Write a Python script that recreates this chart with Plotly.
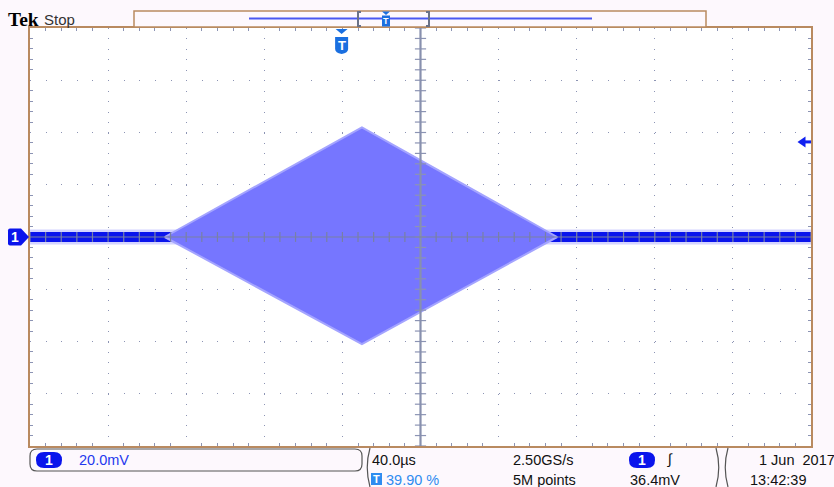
import numpy as np
import plotly.graph_objects as go

time_per_div_us = 40.0
volt_per_div_mV = 20.0
n_hdiv = 10
n_vdiv = 8
trigger_pos_pct = 39.90
trigger_level_mV = 36.4

baseline_t_us = [0.0, 400.0]
baseline_mV = [0.0, 0.0]

envelope_t_us = [69.0, 170.0, 270.0, 170.0, 69.0]
envelope_mV = [0.0, 42.0, 0.0, -41.0, 0.0]

status_row1 = ["20.0mV", "40.0µs", "2.50GS/s", "1\u00a0Jun\u00a0\u00a02017"]
status_row2 = ["39.90 %", "5M points", "36.4mV", "13:42:39"]

# ---------------- layout helpers (pixels -> paper) ----------------
W, H = 834, 487
L, R, T, B = 30, 23, 28, 41
PW, PH = W - L - R, H - T - B


def px(x):
    return (x - L) / PW


def py(y):
    return (H - B - y) / PH


def pth(cmds):
    out = []
    for c in cmds:
        if isinstance(c, str):
            out.append(c)
        else:
            out.append(f"{px(c[0]):.5f},{py(c[1]):.5f}")
    return " ".join(out)


def pill(x0, y0, x1, y1, r):
    return pth(["M", (x0 + r, y0), "L", (x1 - r, y0), "Q", (x1, y0), (x1, y0 + r),
                "L", (x1, y1 - r), "Q", (x1, y1), (x1 - r, y1), "L", (x0 + r, y1),
                "Q", (x0, y1), (x0, y1 - r), "L", (x0, y0 + r), "Q", (x0, y0), (x0 + r, y0), "Z"])


xmax = time_per_div_us * n_hdiv
ymax = volt_per_div_mV * n_vdiv / 2
trig_x = xmax * trigger_pos_pct / 100.0

BORDER = "#b98a60"
GRID = "#8c94b4"
BG = "#fdf8fd"
BLUE = "#0a14ec"
FILL = "#7676ff"

fig = go.Figure()

# baseline (noise band) with soft fringe
fig.add_trace(go.Scatter(x=baseline_t_us, y=baseline_mV, mode="lines",
                         line=dict(color="#d4d4ff", width=15), hoverinfo="skip"))
fig.add_trace(go.Scatter(x=baseline_t_us, y=baseline_mV, mode="lines",
                         line=dict(color=BLUE, width=10), hoverinfo="skip"))
# burst envelope
fig.add_trace(go.Scatter(x=envelope_t_us, y=envelope_mV, mode="lines", fill="toself",
                         fillcolor=FILL, line=dict(color="#a4a4ff", width=2),
                         hoverinfo="skip"))

# centre-line tick marks (graticule decoration)
hx = np.arange(0, xmax + 0.01, time_per_div_us / 5)
vy = np.arange(-ymax, ymax + 0.01, volt_per_div_mV / 5)
fig.add_trace(go.Scatter(x=hx, y=np.zeros_like(hx), mode="markers",
                         marker=dict(symbol="line-ns", size=7, line=dict(color="#7880a4", width=1.2)),
                         hoverinfo="skip"))
fig.add_trace(go.Scatter(x=np.full_like(vy, xmax / 2), y=vy, mode="markers",
                         marker=dict(symbol="line-ew", size=8, line=dict(color=GRID, width=1.2)),
                         hoverinfo="skip"))

shapes = []
# centre cross
shapes.append(dict(type="line", xref="x", yref="paper", x0=xmax / 2, x1=xmax / 2, y0=0, y1=1,
                   line=dict(color="#8890ae", width=2.2), layer="above"))
shapes.append(dict(type="line", xref="paper", yref="y", x0=0, x1=1, y0=0, y1=0,
                   line=dict(color="#7880a4", width=1.2), layer="above"))

# record bar at top
shapes.append(dict(type="rect", xref="paper", yref="paper", x0=px(134), x1=px(706),
                   y0=py(27), y1=py(11), line=dict(color=BORDER, width=1.5), fillcolor=BG))
shapes.append(dict(type="line", xref="paper", yref="paper", x0=px(249), x1=px(592),
                   y0=py(18.5), y1=py(18.5), line=dict(color="#4a58f2", width=2)))
shapes.append(dict(type="path", xref="paper", yref="paper",
                   path=pth(["M", (361, 12), "L", (358, 12), "L", (358, 26), "L", (361, 26)]),
                   line=dict(color="#6a7288", width=2)))
shapes.append(dict(type="path", xref="paper", yref="paper",
                   path=pth(["M", (426, 12), "L", (429, 12), "L", (429, 26), "L", (426, 26)]),
                   line=dict(color="#6a7288", width=2)))
shapes.append(dict(type="path", xref="paper", yref="paper",
                   path=pth(["M", (382, 11.5), "L", (390, 11.5), "L", (386, 15), "Z"]),
                   fillcolor="#1a6fe0", line=dict(width=0)))
shapes.append(dict(type="rect", xref="paper", yref="paper", x0=px(382), x1=px(390),
                   y0=py(26.5), y1=py(15.5), fillcolor="#1a6fe0", line=dict(width=0)))

# trigger position marker (anchored on the time axis)
shapes.append(dict(type="path", xref="x", xsizemode="pixel", xanchor=trig_x, yref="paper",
                   path=f"M -6,{py(29):.5f} L 6,{py(29):.5f} L 0,{py(34):.5f} Z",
                   fillcolor="#1a6fe0", line=dict(width=0)))
shapes.append(dict(type="path", xref="x", xsizemode="pixel", xanchor=trig_x, yref="paper",
                   path=(f"M -6.5,{py(37):.5f} L 6.5,{py(37):.5f} L 6.5,{py(49):.5f} "
                         f"Q 6.5,{py(53):.5f} 0,{py(54):.5f} Q -6.5,{py(53):.5f} -6.5,{py(49):.5f} Z"),
                   fillcolor="#1a6fe0", line=dict(width=0)))

# trigger level arrow on the right edge
shapes.append(dict(type="line", xref="paper", yref="y", x0=px(803), x1=px(811),
                   y0=trigger_level_mV, y1=trigger_level_mV,
                   line=dict(color="#1020f0", width=3)))
shapes.append(dict(type="path", xref="paper", yref="y", ysizemode="pixel", yanchor=trigger_level_mV,
                   path=f"M {px(797.5):.5f},0 L {px(805.5):.5f},5.5 L {px(805.5):.5f},-5.5 Z",
                   fillcolor="#1020f0", line=dict(width=0)))

# channel 1 ground marker at left
shapes.append(dict(type="path", xref="paper", yref="y", ysizemode="pixel", yanchor=0,
                   path=(f"M {px(8):.5f},6.5 Q {px(8):.5f},8.5 {px(10):.5f},8.5 L {px(21):.5f},8.5 "
                         f"L {px(29):.5f},0 L {px(21):.5f},-8.5 L {px(10):.5f},-8.5 "
                         f"Q {px(8):.5f},-8.5 {px(8):.5f},-6.5 Z"),
                   fillcolor=BLUE, line=dict(width=0)))

# status area
shapes.append(dict(type="path", xref="paper", yref="paper", path=pill(30, 449, 362, 471, 7),
                   line=dict(color="#555555", width=1.2), fillcolor=BG))
for (a, b) in [((370, 448), (364.5, 467.5)), ((716, 448), (721.5, 467.5)), ((728, 448), (722.5, 467.5))]:
    shapes.append(dict(type="path", xref="paper", yref="paper",
                       path=pth(["M", a, "Q", b, (a[0], 487)]),
                       line=dict(color="#555555", width=1.2)))
shapes.append(dict(type="path", xref="paper", yref="paper", path=pill(36, 452, 62, 468, 8),
                   fillcolor=BLUE, line=dict(width=0)))
shapes.append(dict(type="path", xref="paper", yref="paper", path=pill(629, 452, 655, 468, 8),
                   fillcolor=BLUE, line=dict(width=0)))
shapes.append(dict(type="rect", xref="paper", yref="paper", x0=px(371), x1=px(382),
                   y0=py(485), y1=py(473), fillcolor="#2f8cf0", line=dict(width=0)))

SF = "Liberation Sans, Arial, sans-serif"
ann = []


def text(x, y, s, color="#111111", size=14.5, family=SF, anchor="left", bold=False, xref="paper"):
    ann.append(dict(x=px(x) if xref == "paper" else x, y=py(y), xref=xref, yref="paper", text=s,
                    showarrow=False, xanchor=anchor, yanchor="middle",
                    font=dict(color=color, size=size, family=family,
                              weight="bold" if bold else "normal")))


text(6, 19, "Tek", color="#000000", size=19.5, family="Liberation Serif, serif", bold=True)
text(42, 19.5, "Stop", color="#333333", size=15)
text(trig_x, 45.5, "T", color="white", size=13, bold=True, anchor="center", xref="x")
text(386, 21, "T", color="white", size=9, bold=True, anchor="center")
text(14.5, 237, "1", color="white", size=14, bold=True, anchor="center")
text(49, 460, "1", color="white", size=14, bold=True, anchor="center")
text(642, 460, "1", color="white", size=14, bold=True, anchor="center")
text(376.5, 479, "T", color="white", size=11, bold=True, anchor="center")

text(77, 460, status_row1[0], color="#2438ee")
text(370, 459.5, status_row1[1])
text(511, 459.5, status_row1[2])
text(665, 459.5, "∫", size=14.5)
text(757, 459.5, status_row1[3])
text(384, 479.5, status_row2[0], color="#2f8cf0")
text(511, 479.5, status_row2[1])
text(628, 479.5, status_row2[2])
text(748, 479.5, status_row2[3])

fig.update_layout(
    width=W, height=H, margin=dict(l=L, r=R, t=T, b=B),
    paper_bgcolor=BG, plot_bgcolor="white", showlegend=False,
    shapes=shapes, annotations=ann,
    xaxis=dict(range=[0, xmax], dtick=time_per_div_us, tick0=0, showgrid=True,
               gridcolor=GRID, gridwidth=1, griddash=f"1px,{PH / n_vdiv / 5 - 1:.2f}px",
               zeroline=False, showticklabels=False, ticks="",
               minor=dict(dtick=time_per_div_us / 5, ticks="inside", ticklen=3,
                          tickcolor=GRID, showgrid=False),
               showline=True, linecolor=BORDER, linewidth=2, mirror="ticks", fixedrange=True),
    yaxis=dict(range=[-ymax, ymax], dtick=volt_per_div_mV, tick0=0, showgrid=True,
               gridcolor=GRID, gridwidth=1, griddash=f"1px,{PW / n_hdiv / 5 - 1:.2f}px",
               zeroline=False, showticklabels=False, ticks="",
               minor=dict(dtick=volt_per_div_mV / 5, ticks="inside", ticklen=3,
                          tickcolor=GRID, showgrid=False),
               showline=True, linecolor=BORDER, linewidth=2, mirror="ticks", fixedrange=True),
)

fig.write_html("out.html", config={"displayModeBar": False},
               post_script="document.body.style.margin='0px';document.body.style.background='#fdf8fd';")
